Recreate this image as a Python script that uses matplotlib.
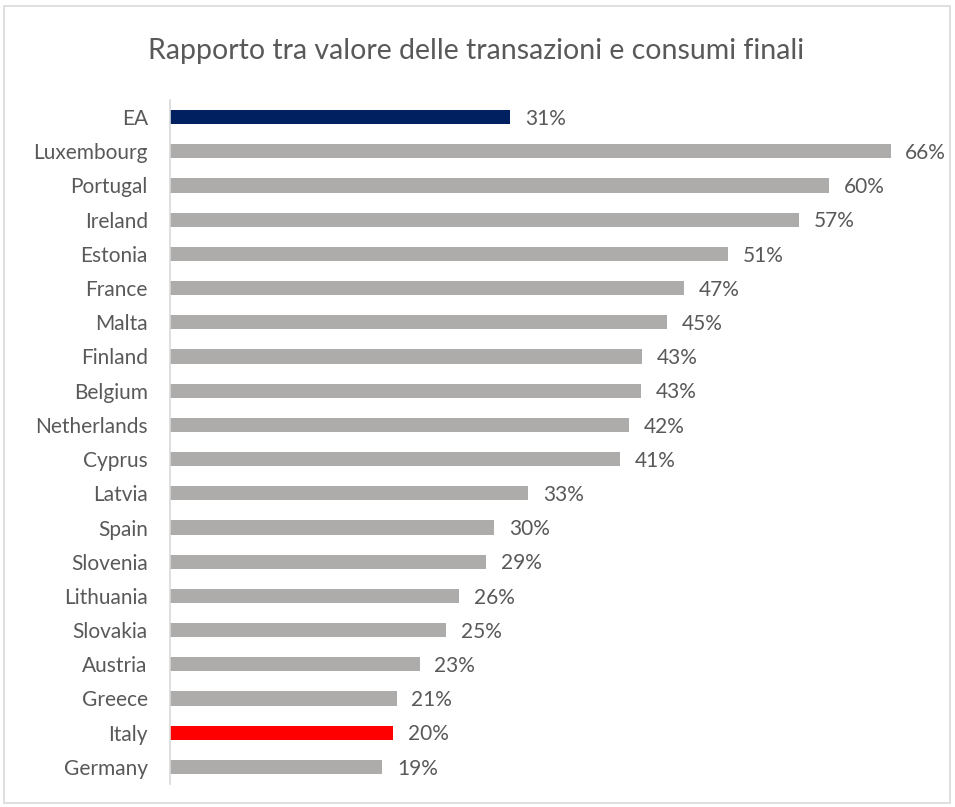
import matplotlib
matplotlib.use("Agg")
import matplotlib.pyplot as plt
from matplotlib.patches import Rectangle

countries = ["EA", "Luxembourg", "Portugal", "Ireland", "Estonia", "France", "Malta",
             "Finland", "Belgium", "Netherlands", "Cyprus", "Latvia", "Spain", "Slovenia",
             "Lithuania", "Slovakia", "Austria", "Greece", "Italy", "Germany"]
values = [31.05, 65.8, 60.2, 57.4, 51.0, 46.9, 45.4, 43.1, 43.0, 41.9, 41.1, 32.7,
          29.6, 28.9, 26.4, 25.2, 22.8, 20.7, 20.4, 19.4]
title = "Rapporto tra valore delle transazioni e consumi finali"

GRAY = "#AEABAB"
NAVY = "#002060"
RED = "#FF0000"
TEXT = "#595959"
colors = [NAVY if c == "EA" else RED if c == "Italy" else GRAY for c in countries]

plt.rcParams['font.family'] = ['Lato', 'DejaVu Sans']

W, H = 955, 807
fig = plt.figure(figsize=(W / 100, H / 100), dpi=100)
fig.patches.append(Rectangle((4 / W, 4 / H), (W - 9) / W, (H - 10) / H,
                             transform=fig.transFigure, fill=False,
                             edgecolor="#D9D9D9", linewidth=1.2))

ax_left, ax_right = 170, 937
ax_top, ax_bot = 100, 784
ax = fig.add_axes([ax_left / W, 1 - ax_bot / H, (ax_right - ax_left) / W, (ax_bot - ax_top) / H])

y = list(range(len(countries)))
ax.barh(y, values, height=0.41, color=colors, edgecolor="none")
ax.set_xlim(0, (ax_right - ax_left) / 10.95)
ax.set_ylim(len(countries) - 0.5, -0.5)

for yi, v in zip(y, values):
    ax.text(v + 1.35, yi + 0.05, f"{v:.0f}%", va="center", ha="left", fontsize=15, color=TEXT)

ax.set_yticks(y)
ax.set_yticklabels(countries, fontsize=15, color=TEXT)
ax.tick_params(axis="y", length=0, pad=16)
ax.set_xticks([])
for s in ["top", "right", "bottom"]:
    ax.spines[s].set_visible(False)
ax.spines["left"].set_color("#D9D9D9")
ax.spines["left"].set_linewidth(1.2)

fig.text(476 / W, 1 - 51 / H, title, ha="center", va="center", fontsize=20.5,
         color=TEXT)

fig.savefig("out.png", dpi=100)
